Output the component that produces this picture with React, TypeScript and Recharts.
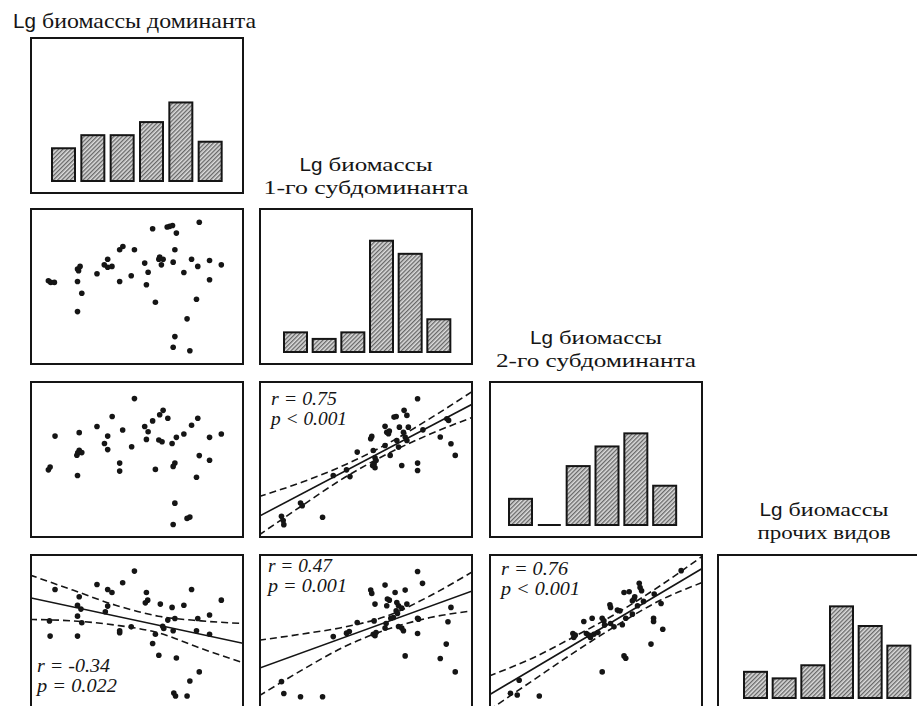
import React from "react";
import { Bar, BarChart, ComposedChart, Line, Scatter, XAxis, YAxis } from "recharts";

// histogram bins (6 classes per variable)
const BINS = ["1", "2", "3", "4", "5", "6"];
const histDominant = [5, 7, 7, 9, 12, 6];
const histSub1 = [3, 2, 3, 17, 15, 5];
const histSub2 = [4, 0, 9, 12, 14, 6];
const histOther = [4, 3, 5, 14, 11, 8];

// scatter points, [x, y] in % of each axis range
const domSub1: [number, number][] = [
  [8.6, 53.6], [9.7, 52.6], [11.4, 52.6], [22.2, 61.1], [23.4, 62.8], [22.7, 60.0], [22.2, 53.2],
  [24.2, 45.7], [22.2, 34.0], [31.3, 58.1], [34.7, 63.8], [36.3, 67.4], [36.3, 62.3], [38.3, 62.8],
  [41.9, 73.4], [43.4, 75.5], [41.9, 53.2], [47.3, 56.8], [48.8, 73.4], [53.6, 64.9], [55.2, 59.1],
  [54.4, 51.1], [57.3, 86.8], [58.6, 40.0], [60.2, 67.4], [60.6, 68.7], [62.2, 67.4], [61.4, 63.8],
  [64.1, 87.9], [65.3, 88.3], [66.6, 88.9], [68.4, 84.0], [67.7, 73.4], [66.9, 65.5], [67.7, 18.1],
  [66.9, 11.3], [71.9, 58.9], [73.4, 29.4], [74.7, 9.1], [75.5, 67.4], [77.8, 41.9], [78.4, 62.8],
  [79.1, 90.9], [83.9, 66.6], [83.9, 54.3], [89.4, 63.8],
];

const domSub2: [number, number][] = [
  [8.6, 43.4], [9.4, 45.2], [11.7, 64.9], [22.2, 39.8], [23.0, 67.1], [21.9, 52.7], [23.0, 55.9],
  [24.2, 54.4], [22.3, 54.2], [31.3, 71.0], [34.8, 60.2], [36.3, 64.9], [36.3, 56.3], [38.4, 77.4],
  [41.9, 47.7], [41.9, 42.6], [43.3, 68.8], [47.5, 58.1], [48.8, 88.8], [53.6, 71.0], [55.2, 67.7],
  [54.4, 62.8], [57.3, 74.6], [58.6, 43.7], [60.2, 62.4], [61.7, 61.3], [60.6, 78.5], [62.2, 81.3],
  [64.4, 76.3], [66.4, 60.2], [67.7, 47.7], [66.9, 45.6], [68.4, 64.1], [67.7, 22.2], [66.9, 8.6],
  [71.9, 66.2], [73.4, 12.5], [74.7, 13.3], [75.5, 71.8], [77.8, 38.7], [78.4, 76.3], [79.1, 52.5],
  [83.9, 64.1], [83.9, 49.5], [89.4, 66.2],
];

const domOther: [number, number][] = [
  [11.7, 77.4], [9.4, 47.7], [9.1, 57.4], [22.2, 47.7], [23.0, 72.8], [22.2, 67.4], [23.8, 64.9],
  [22.2, 60.4], [24.2, 56.2], [31.3, 80.6], [36.3, 77.4], [38.3, 75.5], [36.3, 66.8], [35.2, 63.2],
  [41.9, 51.1], [41.9, 49.8], [43.3, 81.7], [47.3, 53.6], [48.8, 89.1], [54.4, 75.5], [55.0, 70.6],
  [53.9, 68.9], [57.3, 43.0], [58.6, 48.9], [60.2, 35.5], [60.9, 68.1], [62.0, 54.0], [62.5, 52.6],
  [64.4, 57.9], [66.4, 66.0], [67.7, 58.9], [66.9, 51.1], [68.4, 33.8], [71.9, 67.4], [75.5, 77.4],
  [74.7, 19.1], [67.2, 11.5], [68.0, 9.6], [73.4, 9.6], [77.8, 51.1], [78.4, 58.9], [79.1, 24.9],
  [83.9, 61.1], [83.9, 48.9], [89.4, 70.6],
];

const sub1Sub2: [number, number][] = [
  [10.5, 13.8], [11.3, 11.1], [11.6, 8.5], [19.4, 22.3], [20.2, 20.6], [29.7, 13.2], [34.7, 39.8],
  [40.9, 43.4], [42.5, 39.1], [45.9, 54.7], [52.2, 63.2], [52.7, 64.7], [53.4, 55.7], [54.2, 51.1],
  [53.8, 47.2], [54.2, 44.7], [53.1, 46.2], [54.7, 49.4], [58.9, 71.1], [59.7, 67.4], [60.5, 66.4],
  [60.9, 68.1], [58.9, 58.9], [61.3, 52.6], [63.1, 77.0], [64.1, 77.4], [65.6, 70.6], [64.4, 62.1],
  [65.2, 57.9], [66.7, 46.2], [67.8, 81.3], [69.1, 78.1], [67.5, 67.4], [68.3, 64.3], [69.1, 62.1],
  [69.8, 70.6], [74.1, 88.7], [74.1, 47.7], [74.1, 43.0], [76.6, 68.9], [84.7, 64.3], [87.8, 76.0],
  [88.6, 74.9], [89.7, 60.0], [91.7, 52.6],
];

const sub1Other: [number, number][] = [
  [10.5, 18.7], [11.6, 11.1], [19.4, 9.1], [29.7, 9.1], [34.7, 47.4], [40.9, 49.6], [42.2, 50.6],
  [45.9, 56.4], [52.2, 77.0], [52.7, 74.9], [54.2, 68.1], [58.9, 80.2], [53.8, 57.4], [53.4, 48.9],
  [54.2, 47.9], [54.7, 50.0], [58.9, 52.8], [59.7, 67.0], [60.0, 71.3], [60.9, 70.6], [63.6, 75.5],
  [64.4, 69.1], [65.2, 67.0], [64.1, 63.8], [64.7, 62.1], [62.8, 59.6], [65.2, 53.8], [66.7, 52.8],
  [67.5, 51.1], [68.3, 77.0], [69.1, 68.1], [68.3, 35.1], [74.1, 88.9], [76.4, 81.3], [74.1, 59.1],
  [74.5, 58.5], [74.1, 49.4], [84.7, 33.4], [87.5, 42.6], [88.3, 56.8], [89.7, 66.0], [91.7, 24.9],
  [61.6, 59.1], [66.7, 65.5], [59.4, 55.7],
];

const sub2Other: [number, number][] = [
  [14.1, 19.6], [10.0, 11.3], [13.2, 10.2], [23.5, 9.6], [52.9, 24.9], [63.1, 35.1], [63.9, 33.6],
  [75.7, 42.6], [76.9, 59.1], [76.9, 57.0], [81.2, 52.1], [39.2, 49.4], [40.3, 48.3], [39.6, 46.8],
  [44.3, 57.0], [48.2, 59.1], [45.5, 49.4], [46.6, 48.3], [47.4, 46.8], [49.0, 48.9], [50.9, 50.0],
  [52.9, 59.1], [53.7, 57.4], [54.0, 54.7], [56.8, 55.7], [56.5, 67.7], [56.8, 66.0], [60.0, 64.3],
  [61.2, 63.8], [58.4, 53.6], [62.3, 54.9], [63.9, 59.1], [63.1, 75.5], [65.5, 76.0], [67.0, 70.2],
  [67.8, 71.3], [69.4, 67.0], [68.1, 72.8], [70.2, 81.3], [70.6, 78.7], [71.3, 76.6], [72.2, 69.8],
  [77.2, 74.5], [80.4, 68.5], [89.8, 89.4], [67.0, 61.7],
];

// regression line and its confidence band, read at these x values
const FIT_X = [0, 100];
const BAND_X = [0, 20, 40, 60, 80, 100];

const domOtherFit = [72.1, 43.0];
const domOtherUp = [86.6, 77.0, 67.4, 60.4, 57.4, 55.7];
const domOtherLo = [58.3, 57.4, 54.7, 49.8, 39.8, 30.6];

const sub1Sub2Fit = [13.8, 85.5];
const sub1Sub2Up = [26.4, 35.5, 46.5, 60.0, 76.2, 93.6];
const sub1Sub2Lo = [1.9, 20.5, 38.5, 53.6, 66.2, 77.0];

const sub1OtherFit = [27.2, 76.6];
const sub1OtherUp = [45.1, 49.0, 53.5, 60.6, 73.4, 88.9];
const sub1OtherLo = [9.6, 26.0, 41.0, 52.0, 59.5, 63.8];

const sub2OtherFit = [10.2, 91.1];
const sub2OtherUp = [22.3, 33.5, 47.5, 62.5, 79.8, 98.9];
const sub2OtherLo = [0.5, 19.0, 37.5, 54.8, 70.5, 82.0];

const W = 214;
const H = 157;
const COL_X = [30, 259, 489, 717];
const ROW_Y = [37, 208, 381, 554];
const INK = "#151515";
const SERIF = "'Liberation Serif', 'Times New Roman', serif";
const SANS = "'Liberation Sans', Arial, sans-serif";

function HistBar(props: any) {
  const { x, y, width, height, fill } = props;
  if (!height || height < 1) {
    return <line x1={x} x2={x + width} y1={y} y2={y} stroke={INK} strokeWidth={2} />;
  }
  return <rect x={x} y={y} width={width} height={height} fill={fill} stroke={INK} strokeWidth={2} />;
}

function Histogram({ id, counts, left, right }: { id: string; counts: number[]; left: number; right: number }) {
  const data = BINS.map((b, i) => ({ bin: b, n: counts[i] }));
  return (
    <BarChart width={W} height={H} data={data} margin={{ top: 0, right, bottom: 13, left }} barCategoryGap={3}>
      <defs>
        <pattern id={id} width={3} height={3} patternUnits="userSpaceOnUse" patternTransform="rotate(45)">
          <rect width={3} height={3} fill="#dcdcdc" />
          <line x1={0.7} y1={0} x2={0.7} y2={3} stroke="#5a5a5a" strokeWidth={1.2} />
        </pattern>
      </defs>
      <XAxis dataKey="bin" hide />
      <YAxis domain={[0, 22]} hide />
      <Bar dataKey="n" fill={`url(#${id})`} shape={<HistBar />} isAnimationActive={false} />
    </BarChart>
  );
}

const dot = (p: any) => <circle cx={p.cx} cy={p.cy} r={2.8} fill={INK} />;

function ScatterPanel({
  points,
  fit,
  up,
  lo,
}: {
  points: [number, number][];
  fit?: number[];
  up?: number[];
  lo?: number[];
}) {
  const pts = points.map(([x, y]) => ({ x, y }));
  const fitData = fit ? FIT_X.map((x, i) => ({ x, y: fit[i] })) : [];
  const upData = up ? BAND_X.map((x, i) => ({ x, y: up[i] })) : [];
  const loData = lo ? BAND_X.map((x, i) => ({ x, y: lo[i] })) : [];
  return (
    <ComposedChart width={W} height={H} margin={{ top: 0, right: 0, bottom: 0, left: 0 }}>
      <XAxis type="number" dataKey="x" domain={[0, 100]} hide allowDataOverflow />
      <YAxis type="number" dataKey="y" domain={[0, 100]} hide allowDataOverflow />
      {fit && (
        <Line data={fitData} dataKey="y" type="linear" stroke={INK} strokeWidth={1.6} dot={false} isAnimationActive={false} />
      )}
      {up && (
        <Line data={upData} dataKey="y" type="monotone" stroke={INK} strokeWidth={1.6} strokeDasharray="7 4" dot={false} isAnimationActive={false} />
      )}
      {lo && (
        <Line data={loData} dataKey="y" type="monotone" stroke={INK} strokeWidth={1.6} strokeDasharray="7 4" dot={false} isAnimationActive={false} />
      )}
      <Scatter data={pts} dataKey="y" shape={dot} isAnimationActive={false} />
    </ComposedChart>
  );
}

function Cell({ col, row, children }: { col: number; row: number; children: React.ReactNode }) {
  return (
    <>
      <div style={{ position: "absolute", left: COL_X[col], top: ROW_Y[row], width: W, height: H }}>{children}</div>
      <div
        style={{
          position: "absolute",
          left: COL_X[col],
          top: ROW_Y[row],
          width: W,
          height: H,
          border: `2px solid ${INK}`,
          boxSizing: "border-box",
          pointerEvents: "none",
        }}
      />
    </>
  );
}

// "Lg" in sans, rest in serif, as two separate texts
function LgLine({ x, y, rest, restLen, size }: { x: number; y: number; rest: string; restLen: number; size: number }) {
  return (
    <>
      <text x={x} y={y} fontSize={size} fontFamily={SANS} fill={INK} textLength={23} lengthAdjust="spacingAndGlyphs">
        Lg
      </text>
      <text x={x + 29} y={y} fontSize={size} fontFamily={SERIF} fill={INK} textLength={restLen} lengthAdjust="spacingAndGlyphs">
        {rest}
      </text>
    </>
  );
}

function Title({ col, second, len, dy }: { col: number; second: string; len: number[]; dy: number[] }) {
  const cx = COL_X[col] + W / 2;
  const top = ROW_Y[col];
  return (
    <>
      <LgLine x={cx - len[0] / 2} y={top + dy[0]} rest="биомассы" restLen={len[0] - 29} size={19} />
      <text x={cx} y={top + dy[1]} textAnchor="middle" fontSize={19} fill={INK} fontFamily={SERIF} textLength={len[1]} lengthAdjust="spacingAndGlyphs">
        {second}
      </text>
    </>
  );
}

function Stat({ col, row, dx, dy, r, p, len }: { col: number; row: number; dx: number; dy: number; r: string; p: string; len: number[] }) {
  const x = COL_X[col] + dx;
  const y = ROW_Y[row] + dy;
  return (
    <>
      <text x={x} y={y} fontFamily={SERIF} fontStyle="italic" fontSize={19} fill={INK} textLength={len[0]} lengthAdjust="spacingAndGlyphs">
        {r}
      </text>
      <text x={x} y={y + 20} fontFamily={SERIF} fontStyle="italic" fontSize={19} fill={INK} textLength={len[1]} lengthAdjust="spacingAndGlyphs">
        {p}
      </text>
    </>
  );
}

export default function App() {
  return (
    <div style={{ position: "absolute", left: 0, top: 0, width: 917, height: 706, overflow: "hidden", background: "#fff" }}>
      <Cell col={0} row={0}>
        <Histogram id="h1" counts={histDominant} left={19} right={19} />
      </Cell>
      <Cell col={1} row={1}>
        <Histogram id="h2" counts={histSub1} left={22} right={20} />
      </Cell>
      <Cell col={2} row={2}>
        <Histogram id="h3" counts={histSub2} left={17} right={24} />
      </Cell>
      <Cell col={3} row={3}>
        <Histogram id="h4" counts={histOther} left={24} right={18} />
      </Cell>

      <Cell col={0} row={1}>
        <ScatterPanel points={domSub1} />
      </Cell>
      <Cell col={0} row={2}>
        <ScatterPanel points={domSub2} />
      </Cell>
      <Cell col={0} row={3}>
        <ScatterPanel points={domOther} fit={domOtherFit} up={domOtherUp} lo={domOtherLo} />
      </Cell>
      <Cell col={1} row={2}>
        <ScatterPanel points={sub1Sub2} fit={sub1Sub2Fit} up={sub1Sub2Up} lo={sub1Sub2Lo} />
      </Cell>
      <Cell col={1} row={3}>
        <ScatterPanel points={sub1Other} fit={sub1OtherFit} up={sub1OtherUp} lo={sub1OtherLo} />
      </Cell>
      <Cell col={2} row={3}>
        <ScatterPanel points={sub2Other} fit={sub2OtherFit} up={sub2OtherUp} lo={sub2OtherLo} />
      </Cell>

      <svg width={917} height={706} style={{ position: "absolute", left: 0, top: 0, pointerEvents: "none" }}>
        <LgLine x={13} y={28} rest="биомассы доминанта" restLen={214} size={21} />
        <Title col={1} second="1-го субдоминанта" len={[133, 205]} dy={[-37, -14]} />
        <Title col={2} second="2-го субдоминанта" len={[132, 200]} dy={[-37, -14]} />
        <Title col={3} second="прочих видов" len={[129, 133]} dy={[-38, -15]} />

        <Stat col={1} row={2} dx={12} dy={24} r="r = 0.75" p="p < 0.001" len={[66, 76]} />
        <Stat col={1} row={3} dx={9} dy={18} r="r = 0.47" p="p = 0.001" len={[64, 79]} />
        <Stat col={2} row={3} dx={12} dy={21} r="r = 0.76" p="p < 0.001" len={[67, 79]} />
        <Stat col={0} row={3} dx={7} dy={118} r="r = -0.34" p="p = 0.022" len={[73, 80]} />
      </svg>
    </div>
  );
}
